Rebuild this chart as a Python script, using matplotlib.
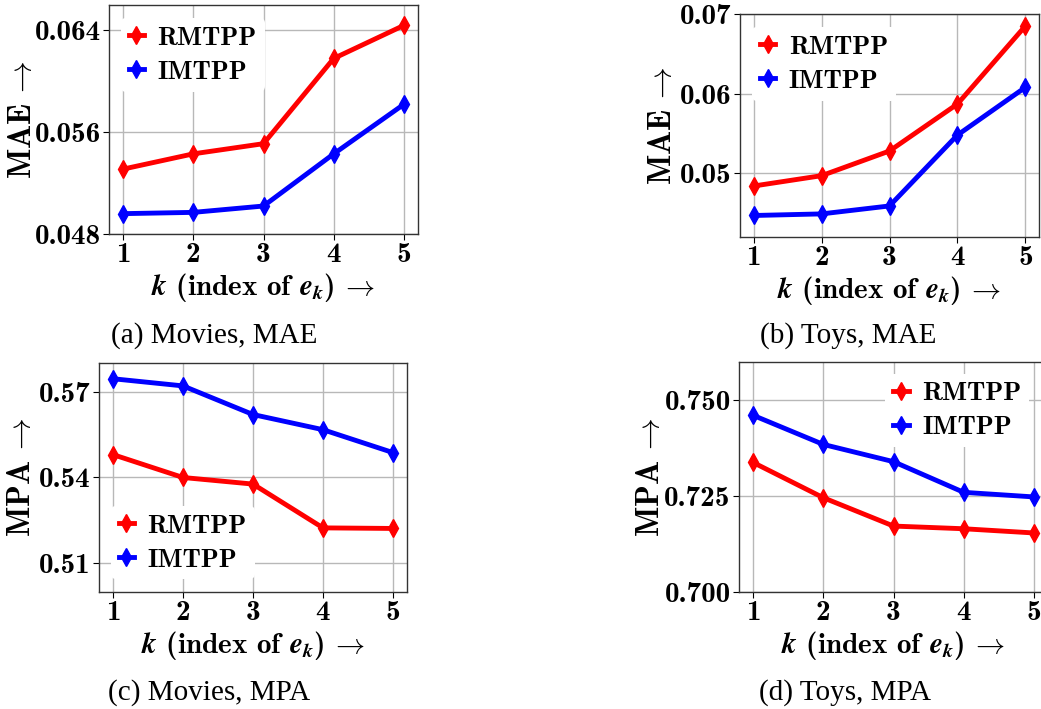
import matplotlib
matplotlib.use("Agg")
import matplotlib.pyplot as plt

# x axis: index k of the future event e_k
ks = [1, 2, 3, 4, 5]

# Movies, MAE
movies_mae_rmtpp = [0.0531, 0.0543, 0.0551, 0.0618, 0.0644]
movies_mae_imtpp = [0.0496, 0.0497, 0.0502, 0.0543, 0.0582]
# Toys, MAE
toys_mae_rmtpp = [0.0484, 0.0497, 0.0528, 0.0587, 0.0685]
toys_mae_imtpp = [0.0447, 0.0449, 0.0459, 0.0548, 0.0608]
# Movies, MPA
movies_mpa_rmtpp = [0.5480, 0.5400, 0.5377, 0.5224, 0.5222]
movies_mpa_imtpp = [0.5745, 0.5720, 0.5620, 0.5567, 0.5487]
# Toys, MPA
toys_mpa_rmtpp = [0.7338, 0.7246, 0.7172, 0.7165, 0.7154]
toys_mpa_imtpp = [0.7461, 0.7385, 0.7340, 0.7260, 0.7248]

plt.rcParams['font.family'] = ['cmb10', 'DejaVu Serif']
plt.rcParams['mathtext.fontset'] = 'custom'
plt.rcParams['mathtext.rm'] = 'cmb10'
plt.rcParams['mathtext.bf'] = 'cmb10'
plt.rcParams['mathtext.bfit'] = 'STIXGeneral:italic:bold'
plt.rcParams['mathtext.fallback'] = 'cm'

W, H = 1041, 709
fig = plt.figure(figsize=(W / 100, H / 100), dpi=100)


def px_axes(l, t, r, b):
    return fig.add_axes([l / W, 1 - b / H, (r - l) / W, (b - t) / H])


xlabel = r'$\mathbfit{k}$ (index of $\mathbfit{e}_{\mathbfit{k}}$)$\,\rightarrow$'


def panel(ax, rm, im, ylabel, ylim, yticks, fmt, legend_kw, ylab_x):
    ax.plot(ks, rm, color='red', marker='d', markersize=9, linewidth=3.5,
            label='RMTPP')
    ax.plot(ks, im, color='blue', marker='d', markersize=9, linewidth=3.5,
            label='IMTPP')
    ax.set_xlim(0.8, 5.2)
    ax.set_ylim(*ylim)
    ax.set_xticks(ks)
    ax.set_yticks(yticks)
    ax.set_yticklabels([fmt.format(v) for v in yticks])
    ax.tick_params(labelsize=21, length=4, width=0.8, pad=2)
    ax.grid(True, color='#b8b8b8', linewidth=1.0)
    ax.set_axisbelow(True)
    for s in ax.spines.values():
        s.set_linewidth(1.0)
        s.set_color('#333333')
    ax.set_xlabel(xlabel, fontsize=21, labelpad=2)
    ax.set_ylabel(ylabel + r'$\,\rightarrow$', fontsize=23)
    ax.yaxis.set_label_coords(ylab_x, 0.5)
    ax.legend(fontsize=19, handlelength=0.6, handletextpad=0.5,
              labelspacing=0.4, numpoints=1, framealpha=1,
              edgecolor='none', borderpad=0.3, **legend_kw)


ax_a = px_axes(109, 5, 418, 234)
panel(ax_a, movies_mae_rmtpp, movies_mae_imtpp, 'MAE', (0.048, 0.066),
      [0.048, 0.056, 0.064], '{:.3f}',
      dict(loc='upper left', bbox_to_anchor=(-0.005, 1.0)), -0.232)

ax_b = px_axes(740, 14, 1039, 237)
panel(ax_b, toys_mae_rmtpp, toys_mae_imtpp, 'MAE', (0.042, 0.07),
      [0.05, 0.06, 0.07], '{:.2f}',
      dict(loc='upper left', bbox_to_anchor=(-0.005, 1.0)), -0.212)

ax_c = px_axes(99, 363, 407, 592)
panel(ax_c, movies_mpa_rmtpp, movies_mpa_imtpp, 'MPA', (0.50, 0.58),
      [0.51, 0.54, 0.57], '{:.2f}',
      dict(loc='lower left', bbox_to_anchor=(-0.005, -0.003)), -0.203)

ax_d = px_axes(739, 362, 1048, 592)
panel(ax_d, toys_mpa_rmtpp, toys_mpa_imtpp, 'MPA', (0.70, 0.76),
      [0.700, 0.725, 0.750], '{:.3f}',
      dict(loc='upper right', bbox_to_anchor=(0.982, 1.005)), -0.238)

caption_kw = dict(fontsize=21, family='Liberation Serif', ha='center', va='center')
fig.text(214 / W, 1 - 336 / H, '(a) Movies, MAE', **caption_kw)
fig.text(848 / W, 1 - 336 / H, '(b) Toys, MAE', **caption_kw)
fig.text(209 / W, 1 - 693 / H, '(c) Movies, MPA', **caption_kw)
fig.text(845 / W, 1 - 693 / H, '(d) Toys, MPA', **caption_kw)

fig.savefig('out.png', dpi=100)
